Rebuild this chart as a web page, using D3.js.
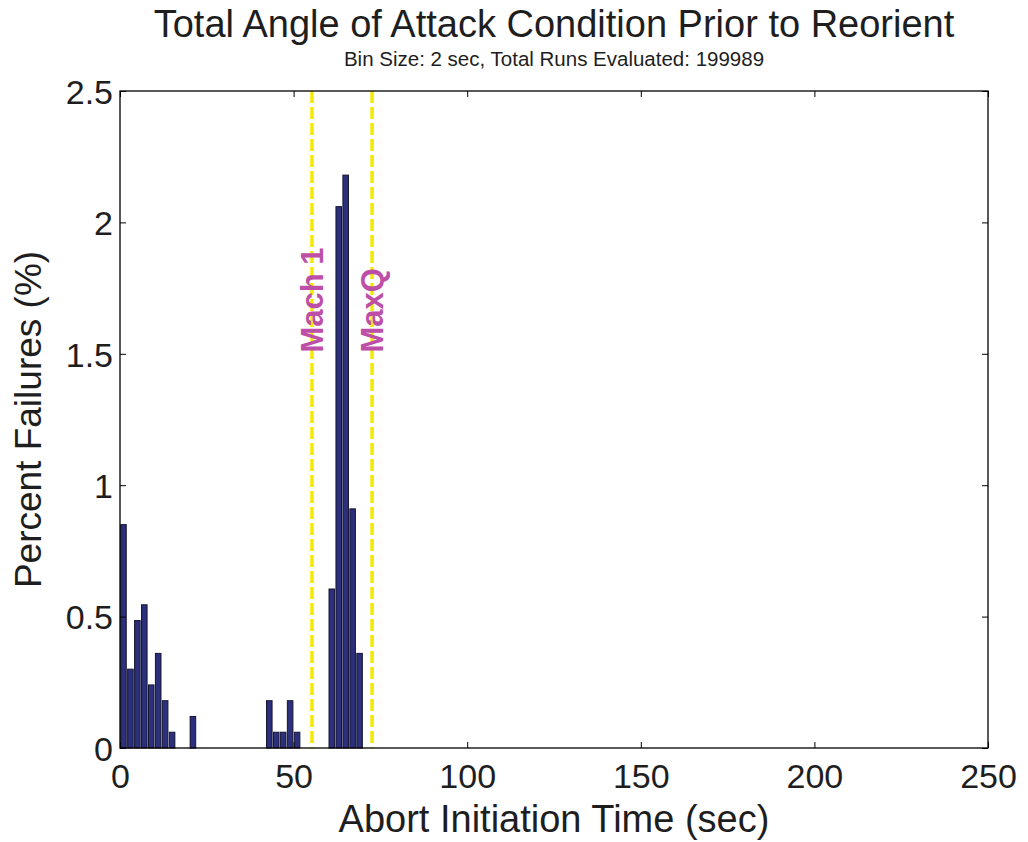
<!DOCTYPE html>
<html>
<head>
<meta charset="utf-8">
<script src="https://cdn.jsdelivr.net/npm/d3@7"></script>
<style>
  body { margin: 0; background: #fff; }
  svg text { font-family: "Liberation Sans", Arial, sans-serif; fill: #1e1e1e; }
</style>
</head>
<body>
<div id="chart"></div>
<script>
// histogram bins (center of 2 sec bin) and percent failures
const binCenters = [1, 3, 5, 7, 9, 11, 13, 15, 21, 43, 45, 47, 49, 51, 61, 63, 65, 67, 69];
const percentFailures = [0.85, 0.30, 0.485, 0.545, 0.24, 0.36, 0.18, 0.06, 0.12,
                         0.18, 0.06, 0.06, 0.18, 0.06, 0.605, 2.06, 2.18, 0.91, 0.36];
const binSize = 2;

// flight events
const eventTimes = [55.3, 72.6];
const eventLabels = ["Mach 1", "MaxQ"];

const xTicks = [0, 50, 100, 150, 200, 250];
const yTicks = [0, 0.5, 1, 1.5, 2, 2.5];

const width = 1028, height = 842;
const margin = {top: 91, right: 40, bottom: 94, left: 120};
const plotW = width - margin.left - margin.right;
const plotH = height - margin.top - margin.bottom;

const svg = d3.select("#chart").append("svg")
    .attr("width", width)
    .attr("height", height);

const g = svg.append("g")
    .attr("transform", `translate(${margin.left},${margin.top})`);

const x = d3.scaleLinear().domain([0, 250]).range([0, plotW]);
const y = d3.scaleLinear().domain([0, 2.5]).range([plotH, 0]);

const data = binCenters.map((c, i) => ({center: c, value: percentFailures[i]}));
const barW = 0.8 * binSize;

// bars
g.selectAll("rect.bar")
  .data(data)
  .enter()
  .append("rect")
    .attr("class", "bar")
    .attr("x", d => x(d.center - barW / 2))
    .attr("y", d => y(d.value))
    .attr("width", x(barW) - x(0))
    .attr("height", d => y(0) - y(d.value))
    .style("fill", "#2b2f7c")
    .style("stroke", "#151530")
    .style("stroke-width", 1);

// event lines
g.selectAll("line.event")
  .data(eventTimes)
  .enter()
  .append("line")
    .attr("class", "event")
    .attr("x1", d => x(d))
    .attr("x2", d => x(d))
    .attr("y1", y(2.5))
    .attr("y2", y(0))
    .style("stroke", "#f4ea00")
    .style("stroke-width", 3.5)
    .style("stroke-dasharray", "12,4");

g.selectAll("text.event")
  .data(eventTimes)
  .enter()
  .append("text")
    .attr("class", "event")
    .attr("transform", d => `translate(${x(d) + 11},${y(1.505)}) rotate(-90)`)
    .style("font-size", "31px")
    .style("font-weight", "bold")
    .style("fill", "#bd4fa8")
    .text((d, i) => eventLabels[i]);

// axes, ticks pointing inward
const axisStyle = sel => {
  sel.select(".domain").remove();
  sel.selectAll("line").style("stroke", "#000").style("stroke-width", 1);
};

g.append("g")
    .attr("transform", `translate(0,${plotH})`)
    .call(d3.axisBottom(x).tickValues(xTicks).tickSizeInner(-6).tickSizeOuter(0).tickPadding(16))
    .call(axisStyle)
    .selectAll("text")
    .style("font-size", "34px");

g.append("g")
    .call(d3.axisLeft(y).tickValues(yTicks).tickFormat(d3.format("")).tickSizeInner(-6).tickSizeOuter(0).tickPadding(7))
    .call(axisStyle)
    .selectAll("text")
    .attr("dy", "0.36em")
    .style("font-size", "34px");

g.append("g")
    .call(d3.axisTop(x).tickValues(xTicks).tickSizeInner(-6).tickSizeOuter(0).tickFormat(""))
    .call(axisStyle);

g.append("g")
    .attr("transform", `translate(${plotW},0)`)
    .call(d3.axisRight(y).tickValues(yTicks).tickSizeInner(-6).tickSizeOuter(0).tickFormat(""))
    .call(axisStyle);

// box
g.append("rect")
    .attr("x", 0)
    .attr("y", 0)
    .attr("width", plotW)
    .attr("height", plotH)
    .style("fill", "none")
    .style("stroke", "#000")
    .style("stroke-width", 1.3);

// titles
svg.append("text")
    .attr("x", margin.left + plotW / 2)
    .attr("y", 37)
    .attr("text-anchor", "middle")
    .style("font-size", "38px")
    .text("Total Angle of Attack Condition Prior to Reorient");

svg.append("text")
    .attr("x", margin.left + plotW / 2)
    .attr("y", 66)
    .attr("text-anchor", "middle")
    .style("font-size", "20.5px")
    .text("Bin Size: 2 sec, Total Runs Evaluated: 199989");

svg.append("text")
    .attr("x", margin.left + plotW / 2)
    .attr("y", 832)
    .attr("text-anchor", "middle")
    .style("font-size", "38px")
    .text("Abort Initiation Time (sec)");

svg.append("text")
    .attr("transform", `translate(41,${margin.top + plotH / 2}) rotate(-90)`)
    .attr("text-anchor", "middle")
    .style("font-size", "37px")
    .text("Percent Failures (%)");
</script>
</body>
</html>
